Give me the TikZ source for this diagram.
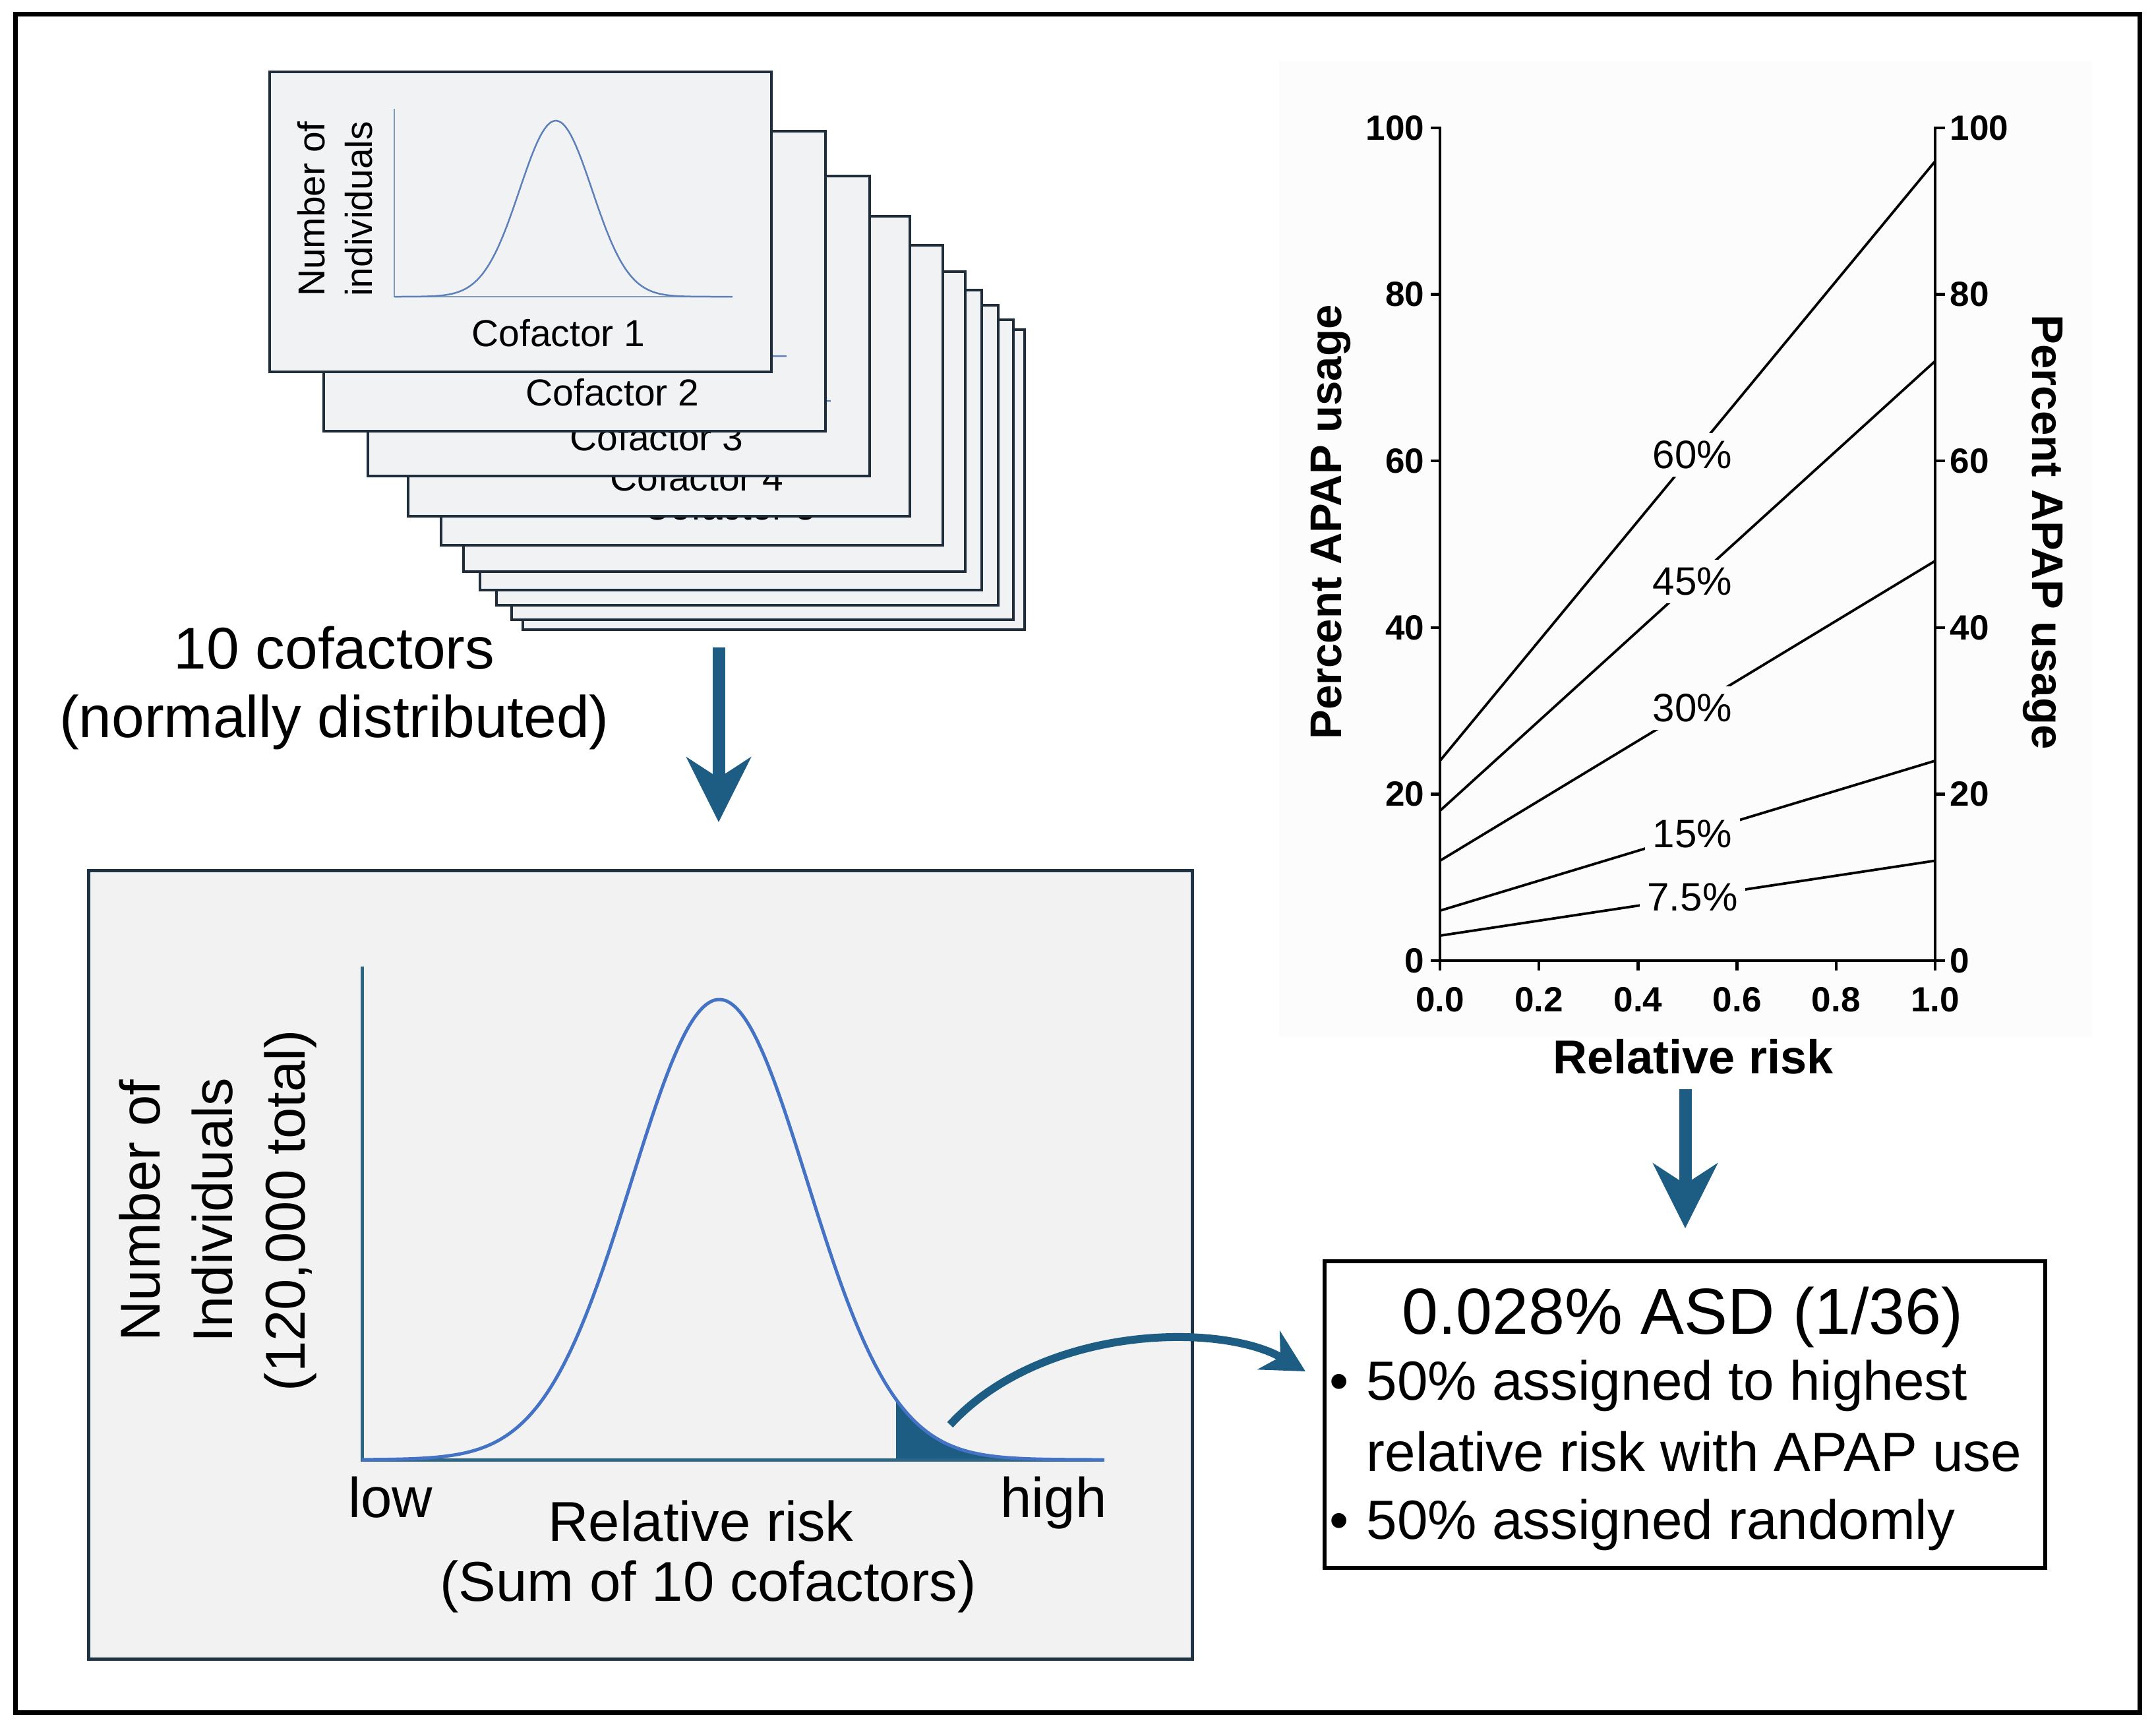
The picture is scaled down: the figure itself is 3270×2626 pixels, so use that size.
\documentclass[tikz,border=0pt]{standalone}
\usepackage{fontspec}
\setmainfont{Liberation Sans}
\usetikzlibrary{arrows.meta}

\definecolor{flowblue}{HTML}{1D5D83}
\definecolor{curveblue}{HTML}{4472C4}
\definecolor{riskaxiscol}{HTML}{2D6684}
\definecolor{boxedge}{HTML}{1E3444}
\definecolor{boxfill}{HTML}{F2F2F2}
\definecolor{cardedge}{HTML}{1F2D3A}
\definecolor{cardfill}{HTML}{F1F2F3}
\definecolor{cardaxiscol}{HTML}{7F9AB5}
\definecolor{cardcurvecol}{HTML}{5E80BA}
\definecolor{graphbg}{HTML}{FCFCFC}

\begin{document}
\begin{tikzpicture}[x=0.1mm, y=-0.1mm,
    card/.style = {draw=cardedge, fill=cardfill, line width=0.4mm, minimum width=76.1mm, minimum height=45.5mm, inner sep=0pt},
    cardaxis/.style = {draw=cardaxiscol, line width=0.25mm},
    cardcurve/.style = {draw=cardcurvecol, line width=0.25mm},
    cardtxt/.style = {font=\fontsize{16.2}{20.5}\selectfont, align=center, inner sep=0pt},
    bigtxt/.style = {font=\fontsize{25.4}{29.6}\selectfont, align=center, inner sep=0pt},
    riskbox/.style = {draw=boxedge, fill=boxfill, line width=0.5mm, minimum width=167.4mm, minimum height=119.6mm, inner sep=0pt},
    riskaxis/.style = {draw=riskaxiscol, line width=0.5mm},
    riskcurve/.style = {draw=curveblue, line width=0.5mm},
    boxtxt/.style = {font=\fontsize{24.2}{31.3}\selectfont, align=center, inner sep=0pt},
    gaxis/.style = {draw=black, line width=0.45mm, line cap=rect},
    dataline/.style = {draw=black, line width=0.38mm},
    ticktxt/.style = {font=\fontsize{15.1}{18}\selectfont\bfseries, inner sep=0pt},
    gtitle/.style = {font=\fontsize{19.1}{23}\selectfont\bfseries, inner sep=0pt},
    pcttxt/.style = {font=\fontsize{17.1}{20}\selectfont, fill=graphbg},
    flowarrow/.style = {draw=flowblue, line width=1.9mm, -{Stealth[length=9.8mm, width=9.7mm, inset=3.1mm]}},
    bendarrow/.style = {draw=flowblue, line width=1.2mm, -{Stealth[length=6.4mm, width=6.7mm, inset=2mm]}},
    asdbox/.style = {draw=black, fill=white, line width=0.6mm, minimum width=109.3mm, minimum height=46.5mm, inner sep=0pt},
    asdhead/.style = {font=\fontsize{28.1}{32}\selectfont, inner sep=0pt},
    asdtxt/.style = {font=\fontsize{23.8}{30}\selectfont, inner sep=0pt}]

    \useasboundingbox (0,0) rectangle (3270,2626);
    \draw[line width=0.7mm] (23,21) rectangle (3245,2597);

    % stack of cofactor cards, back to front
    \foreach \i/\dx/\dy in {10/384/391, 9/367/376, 8/344/354, 7/319/331, 6/294/303, 5/260/263, 4/210/219, 3/149/158, 2/82/90, 1/0/0} {
        \begin{scope}[shift={(409+\dx,109+\dy)}]
            \node[card] (card\i) at (380.5,227.5) {};
            \draw[cardaxis] (189,56) -- (189,341) -- (702,341);
            \draw[cardcurve] plot[domain=-4.45:4.87, samples=70, smooth] ({434+55*\x},{341-267*exp(-0.5*\x*\x)});
            \node[cardtxt, rotate=90] (cardy\i) at (99,208) {Number of\\individuals};
            \node[cardtxt] (cof\i) at (438,396) {Cofactor \i};
        \end{scope}
    }

    \node[bigtxt] (cofac) at (507,1043) {10 cofactors\\(normally distributed)};
    \coordinate (a1top) at (1090,982);
    \coordinate (a1tip) at (1090,1247);
    \draw[flowarrow] (a1top) -- (a1tip);

    % relative risk distribution
    \node[riskbox] (risk) at (971,1918) {};
    \fill[flowblue] (1359,2214) -- plot[domain=2.015:4.39, samples=40] ({1091+133*\x},{2214-698*exp(-0.5*\x*\x)}) -- (1675,2214) -- cycle;
    \draw[riskaxis] (549,1466) -- (549,2214) -- (1675,2214);
    \draw[riskcurve] plot[domain=-4.075:4.39, samples=140, smooth] ({1091+133*\x},{2214-698*exp(-0.5*\x*\x)});
    \node[boxtxt, rotate=90] (risky) at (330,1836) {Number of\\Individuals\\(120,000 total)};
    \node[boxtxt, anchor=base] (low) at (592,2301) {low};
    \node[boxtxt, anchor=base] (high) at (1598,2301) {high};
    \node[boxtxt, anchor=base] (riskx) at (1063,2337) {Relative risk};
    \node[boxtxt, anchor=base] (riskx2) at (1074,2428) {(Sum of 10 cofactors)};

    % APAP usage graph
    \fill[graphbg] (1940,93) rectangle (3173,1573);
    \draw[gaxis] (2184,194) -- (2184,1457) -- (2935,1457) -- (2935,194);
    \foreach \v [count=\k from 0] in {0,20,40,60,80,100} {
        \draw[gaxis] (2172,{1457-252.6*\k}) -- (2184,{1457-252.6*\k});
        \draw[gaxis] (2935,{1457-252.6*\k}) -- (2948,{1457-252.6*\k});
        \node[ticktxt, anchor=east] (yl\k) at (2161,{1457-252.6*\k}) {\v};
        \node[ticktxt, anchor=west] (yr\k) at (2957,{1457-252.6*\k}) {\v};
    }
    \foreach \v [count=\k from 0] in {0.0,0.2,0.4,0.6,0.8,1.0} {
        \draw[gaxis] ({2184+150.2*\k},1457) -- ({2184+150.2*\k},1470);
        \node[ticktxt] (xl\k) at ({2184+150.2*\k},1516) {\v};
    }
    \foreach \p/\lab [count=\n] in {60/60\%, 45/45\%, 30/30\%, 15/15\%, 7.5/7.5\%} {
        \draw[dataline] (2184,{1457-5.052*\p}) -- node[pcttxt, pos=0.51] (pct\n) {\lab} (2935,{1457-20.208*\p});
    }
    \node[gtitle, rotate=90] (gy) at (2018,792) {Percent APAP usage};
    \node[gtitle, rotate=-90] (gy2) at (3098,807) {Percent APAP usage};
    \node[gtitle, font=\fontsize{20.5}{24}\selectfont\bfseries] (gx) at (2568,1603) {Relative risk};

    \coordinate (a2top) at (2556,1652);
    \coordinate (a2tip) at (2556,1863);
    \draw[flowarrow] (a2top) -- (a2tip);

    % outcome box
    \node[asdbox] (asd) at (2555.5,2145.5) {};
    \node[asdhead, anchor=base] (asdt) at (2552,2023) {0.028\% ASD (1/36)};
    \node[asdtxt, anchor=base] (dot1) at (2031,2123) {\textbullet};
    \node[asdtxt, anchor=base west] (b1) at (2072,2123) {50\% assigned to highest};
    \node[asdtxt, anchor=base west] (b2) at (2072,2231) {relative risk with APAP use};
    \node[asdtxt, anchor=base] (dot2) at (2031,2334) {\textbullet};
    \node[asdtxt, anchor=base west] (b3) at (2072,2334) {50\% assigned randomly};

    \coordinate (tail) at (1441,2161);
    \coordinate (asdin) at (1980,2080);
    \draw[bendarrow] (tail) .. controls (1580,2010) and (1850,2005) .. (asdin);
\end{tikzpicture}
\end{document}
